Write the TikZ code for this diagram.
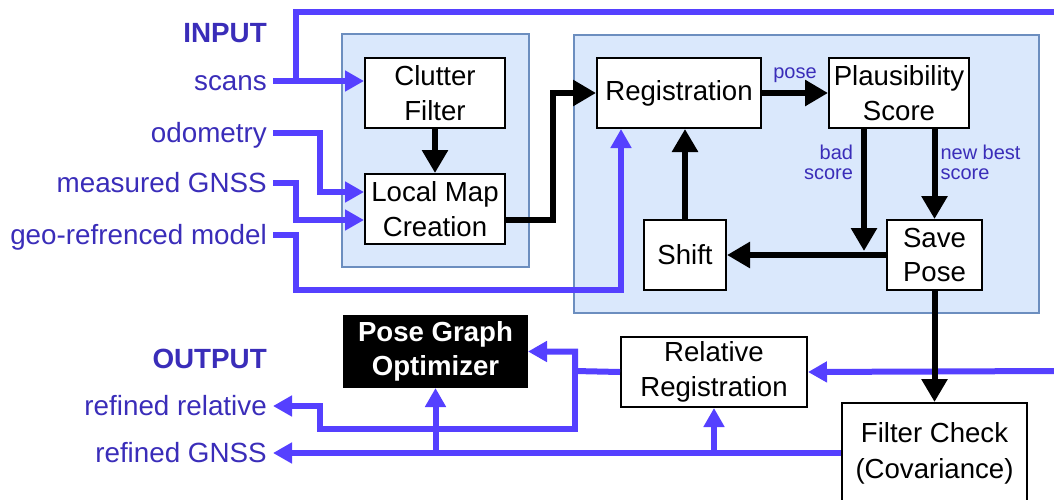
\documentclass[tikz,border=0pt]{standalone}
\usepackage{fontspec}
\setmainfont{Liberation Sans}
\usetikzlibrary{arrows.meta}
\definecolor{lineblue}{RGB}{85,64,255}
\definecolor{textblue}{RGB}{58,45,185}
\definecolor{groupfill}{HTML}{DAE8FC}
\definecolor{groupdraw}{HTML}{6C8EBF}
\tikzset{
  box/.style={draw, line width=2pt, fill=white, align=center, inner sep=2pt,
    minimum height=70pt, font=\fontsize{27.6}{34.5}\selectfont},
  darkbox/.style={box, fill=black, text=white, font=\bfseries\fontsize{27.6}{34.5}\selectfont},
  group/.style={draw=groupdraw, fill=groupfill, line width=1.5pt},
  lbl/.style={text=textblue, anchor=east, inner xsep=6pt, inner ysep=0pt,
    text height=20pt, text depth=2pt, font=\fontsize{27.8}{34}\selectfont},
  small/.style={text=textblue, inner sep=3pt, font=\fontsize{20}{20}\selectfont},
  flow/.style={line width=6pt, -{Triangle[length=23pt,width=25pt]}},
  feed/.style={line width=6pt, draw=lineblue, -{Triangle[length=19pt,width=20pt]}}
}
\begin{document}
\begin{tikzpicture}[x=1pt,y=-1pt]
  \useasboundingbox (0,0) rectangle (1054,499);
  \draw[group] (342,34) rectangle (529,267);
  \draw[group] (574,35) rectangle (1039,313);

  \node[lbl, font=\bfseries\fontsize{27.8}{34}\selectfont] (input) at (273,33) {INPUT};
  \node[lbl] (scans) at (273,81) {scans};
  \node[lbl] (odom) at (273,133) {odometry};
  \node[lbl] (gnss) at (273,183) {measured GNSS};
  \node[lbl] (geo) at (273,235) {geo-refrenced model};
  \node[lbl, font=\bfseries\fontsize{27.8}{34}\selectfont] (output) at (273,359) {OUTPUT};
  \node[lbl] (refrel) at (273,406) {refined relative};
  \node[lbl] (refgnss) at (273,453) {refined GNSS};

  \node[box, minimum width=140pt] (clutter) at (435,93) {Clutter\\Filter};
  \node[box, minimum width=140pt] (localmap) at (435,209) {Local Map\\Creation};
  \node[box, minimum width=164pt] (reg) at (679,93) {Registration};
  \node[box, minimum width=140pt] (plaus) at (899,93) {Plausibility\\Score};
  \node[box, minimum width=82pt] (shift) at (685,255) {Shift};
  \node[box, minimum width=95pt] (savepose) at (934.5,255) {Save\\Pose};
  \node[darkbox, minimum width=183pt, minimum height=71pt] (pgo) at (435.5,351.5) {Pose Graph\\Optimizer};
  \node[box, minimum width=186pt] (relreg) at (714,372) {Relative\\Registration};
  \node[box, minimum width=185pt, minimum height=100pt, font=\fontsize{27.6}{36}\selectfont] (filter) at (934.5,453) {Filter Check\\(Covariance)};

  \coordinate (sj) at (296,81);
  \coordinate (topright) at (1054,12);
  \coordinate (geoturn) at (621,290);
  \coordinate (rightin) at (1054,371);
  \coordinate (rj) at (575,371);
  \coordinate (rk) at (320,429);

  \begin{scope}[feed]
    \draw (scans.east) -- (scans.east -| clutter.west);
    \draw[-] (sj) |- (topright);
    \draw (odom.east) -- ++(47,0) |- ([yshift=17pt]localmap.west);
    \draw (gnss.east) -- ++(23,0) |- ([yshift=-11pt]localmap.west);
    \draw (geo.east) -- ++(23,0) |- (geoturn) -- (geoturn |- reg.south);
    \draw (rightin) -- (relreg.east);
    \draw (relreg.west) -- (rj) |- (pgo.east);
    \draw (rj) |- (rk) |- (refrel.east);
    \draw (filter.west) -- (refgnss.east);
    \draw (pgo.south |- filter.west) -- (pgo.south);
    \draw (relreg.south |- filter.west) -- (relreg.south);
  \end{scope}

  \begin{scope}[flow]
    \draw (clutter) -- (localmap);
    \draw ([yshift=-11pt]localmap.east) -- ++(47,0) |- (reg.west);
    \draw (reg) -- node[small, above=4pt] {pose} (plaus);
    \draw ([xshift=-35pt]plaus.south) -- ++(0,122)
      node[small, pos=0.27, left, inner xsep=8pt, align=right] {bad\\score};
    \draw (savepose.north |- plaus.south) -- (savepose.north)
      node[small, pos=0.37, right, align=left] {new best\\score};
    \draw (savepose.west) -- (shift.east);
    \draw (shift.north) -- (shift.north |- reg.south);
    \draw (savepose.south) -- (filter.north);
  \end{scope}
\end{tikzpicture}
\end{document}
